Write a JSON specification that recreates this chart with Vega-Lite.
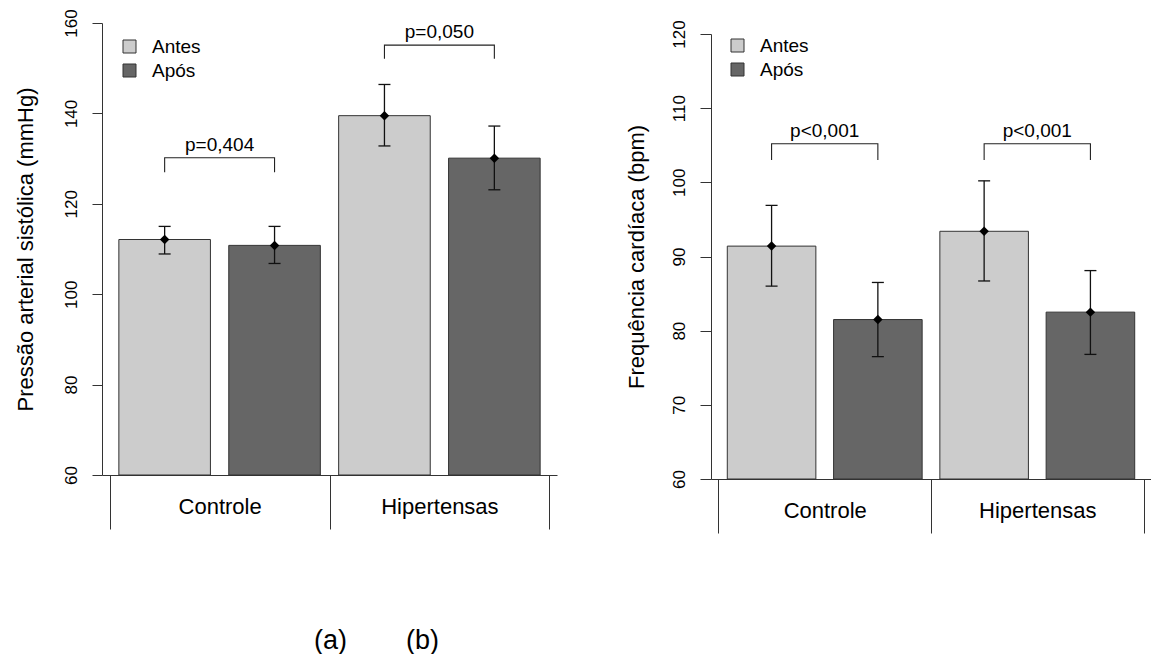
{
  "$schema": "https://vega.github.io/schema/vega-lite/v6.json",
  "background": "white",
  "padding": {"left": 14, "top": 8, "right": 0, "bottom": 0},
  "config": {
    "font": "Liberation Sans",
    "view": {"stroke": null},
    "axis": {"grid": false, "domainColor": "#333", "tickColor": "#333", "labelColor": "#000", "titleColor": "#000", "titleFontWeight": "normal", "labelFont": "Liberation Sans", "titleFont": "Liberation Sans", "domainWidth": 1, "tickWidth": 1},
    "legend": {"labelFont": "Liberation Sans", "labelColor": "#000"}
  },
  "datasets": {
    "pas": [
      {"grupo": "Controle", "tempo": "Antes", "media": 112.1, "inf": 108.9, "sup": 115.0},
      {"grupo": "Controle", "tempo": "Após", "media": 110.8, "inf": 106.8, "sup": 115.0},
      {"grupo": "Hipertensas", "tempo": "Antes", "media": 139.5, "inf": 132.8, "sup": 146.4},
      {"grupo": "Hipertensas", "tempo": "Após", "media": 130.1, "inf": 123.1, "sup": 137.2}
    ],
    "pas_p": [
      {"grupo": "Controle", "p": "p=0,404", "topo": 130.2},
      {"grupo": "Hipertensas", "p": "p=0,050", "topo": 155.1}
    ],
    "pas_br": [
      {"grupo": "Controle", "tempo": "Antes", "y": 127.0, "ordem": 1},
      {"grupo": "Controle", "tempo": "Antes", "y": 130.2, "ordem": 2},
      {"grupo": "Controle", "tempo": "Após", "y": 130.2, "ordem": 3},
      {"grupo": "Controle", "tempo": "Após", "y": 127.0, "ordem": 4},
      {"grupo": "Hipertensas", "tempo": "Antes", "y": 152.1, "ordem": 1},
      {"grupo": "Hipertensas", "tempo": "Antes", "y": 155.1, "ordem": 2},
      {"grupo": "Hipertensas", "tempo": "Após", "y": 155.1, "ordem": 3},
      {"grupo": "Hipertensas", "tempo": "Após", "y": 152.1, "ordem": 4}
    ],
    "fc": [
      {"grupo": "Controle", "tempo": "Antes", "media": 91.4, "inf": 86.0, "sup": 96.9},
      {"grupo": "Controle", "tempo": "Após", "media": 81.5, "inf": 76.5, "sup": 86.5},
      {"grupo": "Hipertensas", "tempo": "Antes", "media": 93.4, "inf": 86.7, "sup": 100.2},
      {"grupo": "Hipertensas", "tempo": "Após", "media": 82.5, "inf": 76.8, "sup": 88.1}
    ],
    "fc_p": [
      {"grupo": "Controle", "p": "p<0,001", "topo": 105.2},
      {"grupo": "Hipertensas", "p": "p<0,001", "topo": 105.2}
    ],
    "fc_br": [
      {"grupo": "Controle", "tempo": "Antes", "y": 103.0, "ordem": 1},
      {"grupo": "Controle", "tempo": "Antes", "y": 105.2, "ordem": 2},
      {"grupo": "Controle", "tempo": "Após", "y": 105.2, "ordem": 3},
      {"grupo": "Controle", "tempo": "Após", "y": 103.0, "ordem": 4},
      {"grupo": "Hipertensas", "tempo": "Antes", "y": 103.0, "ordem": 1},
      {"grupo": "Hipertensas", "tempo": "Antes", "y": 105.2, "ordem": 2},
      {"grupo": "Hipertensas", "tempo": "Após", "y": 105.2, "ordem": 3},
      {"grupo": "Hipertensas", "tempo": "Após", "y": 103.0, "ordem": 4}
    ]
  },
  "spacing": 68,
  "resolve": {"scale": {"x": "independent", "y": "independent", "color": "independent", "xOffset": "independent"}, "legend": {"color": "independent"}},
  "hconcat": [
    {
      "width": 455,
      "height": 452,
      "title": {"text": "(b)", "orient": "bottom", "anchor": "start", "frame": "group", "dx": 304, "offset": -25, "fontSize": 27, "fontWeight": "normal", "font": "Liberation Sans", "color": "#000"},
      "encoding": {
        "x": {"field": "grupo", "type": "nominal", "sort": ["Controle", "Hipertensas"], "title": "(a)",
          "scale": {"paddingInner": 0, "paddingOuter": 0.035},
          "axis": {"labelAngle": 0, "labelFontSize": 22, "tickBand": "extent", "tickSize": 54, "labelPadding": -33, "labelBaseline": "top", "titleX": 228, "titleY": 165, "titleFontSize": 27, "titleAlign": "center", "titleBaseline": "middle"}}
      },
      "layer": [
        {
          "data": {"name": "pas"},
          "mark": {"type": "bar", "stroke": "#333", "strokeWidth": 1},
          "encoding": {
            "xOffset": {"field": "tempo", "type": "nominal", "sort": ["Antes", "Após"], "scale": {"paddingInner": 0.1667, "paddingOuter": 0.0833}},
            "y": {"field": "media", "type": "quantitative", "title": "Pressão arterial sistólica (mmHg)",
              "scale": {"domain": [60, 160], "nice": false, "zero": false},
              "axis": {"values": [60, 80, 100, 120, 140, 160], "labelAngle": -90, "labelFontSize": 17, "tickSize": 10, "labelPadding": 12, "titleFontSize": 22, "titlePadding": 25}},
            "y2": {"datum": 60},
            "color": {"field": "tempo", "type": "nominal", "sort": ["Antes", "Após"],
              "scale": {"domain": ["Antes", "Após"], "range": ["#cccccc", "#666666"]},
              "legend": {"title": null, "orient": "none", "legendX": 18, "legendY": 14, "symbolType": "square", "symbolSize": 169, "symbolStrokeColor": "#333", "symbolStrokeWidth": 1, "labelFontSize": 19, "labelOffset": 13, "rowPadding": 4, "padding": 0}}
          }
        },
        {
          "data": {"name": "pas"},
          "mark": {"type": "rule", "color": "#111", "strokeWidth": 1.3},
          "encoding": {
            "xOffset": {"field": "tempo", "type": "nominal", "sort": ["Antes", "Após"]},
            "y": {"field": "inf", "type": "quantitative", "title": "Pressão arterial sistólica (mmHg)"},
            "y2": {"field": "sup"}
          }
        },
        {
          "data": {"name": "pas"},
          "mark": {"type": "tick", "orient": "horizontal", "size": 12, "thickness": 1.3, "color": "#111", "opacity": 1},
          "encoding": {
            "xOffset": {"field": "tempo", "type": "nominal", "sort": ["Antes", "Após"]},
            "y": {"field": "inf", "type": "quantitative", "title": "Pressão arterial sistólica (mmHg)"}
          }
        },
        {
          "data": {"name": "pas"},
          "mark": {"type": "tick", "orient": "horizontal", "size": 12, "thickness": 1.3, "color": "#111", "opacity": 1},
          "encoding": {
            "xOffset": {"field": "tempo", "type": "nominal", "sort": ["Antes", "Após"]},
            "y": {"field": "sup", "type": "quantitative", "title": "Pressão arterial sistólica (mmHg)"}
          }
        },
        {
          "data": {"name": "pas"},
          "mark": {"type": "point", "shape": "diamond", "filled": true, "size": 90, "color": "#000", "opacity": 1},
          "encoding": {
            "xOffset": {"field": "tempo", "type": "nominal", "sort": ["Antes", "Após"]},
            "y": {"field": "media", "type": "quantitative", "title": "Pressão arterial sistólica (mmHg)"}
          }
        },
        {
          "data": {"name": "pas_br"},
          "mark": {"type": "line", "color": "#222", "strokeWidth": 1.1},
          "encoding": {
            "xOffset": {"field": "tempo", "type": "nominal", "sort": ["Antes", "Após"]},
            "y": {"field": "y", "type": "quantitative", "title": "Pressão arterial sistólica (mmHg)"},
            "order": {"field": "ordem"},
            "detail": {"field": "grupo"}
          }
        },
        {
          "data": {"name": "pas_p"},
          "mark": {"type": "text", "fontSize": 19, "baseline": "alphabetic", "dy": -7, "color": "#000"},
          "encoding": {
            "y": {"field": "topo", "type": "quantitative", "title": "Pressão arterial sistólica (mmHg)"},
            "text": {"field": "p"}
          }
        }
      ]
    },
    {
      "spacing": -5,
      "vconcat": [
        {
          "width": 440,
          "height": 1,
          "data": {"values": [{"v": 1}]},
          "mark": {"type": "point", "opacity": 0, "size": 1}
        },
        {
          "width": 440,
          "height": 445,
          "encoding": {
            "x": {"field": "grupo", "type": "nominal", "sort": ["Controle", "Hipertensas"], "title": null,
              "scale": {"paddingInner": 0, "paddingOuter": 0.035},
              "axis": {"labelAngle": 0, "labelFontSize": 22, "tickBand": "extent", "tickSize": 54, "labelPadding": -33, "labelBaseline": "top"}}
          },
          "layer": [
            {
              "data": {"name": "fc"},
              "mark": {"type": "bar", "stroke": "#333", "strokeWidth": 1},
              "encoding": {
                "xOffset": {"field": "tempo", "type": "nominal", "sort": ["Antes", "Após"], "scale": {"paddingInner": 0.1667, "paddingOuter": 0.0833}},
                "y": {"field": "media", "type": "quantitative", "title": "Frequência cardíaca (bpm)",
                  "scale": {"domain": [60, 120], "nice": false, "zero": false},
                  "axis": {"values": [60, 70, 80, 90, 100, 110, 120], "labelAngle": -90, "labelFontSize": 17, "tickSize": 11, "labelPadding": 12, "titleFontSize": 22, "titlePadding": 22}},
                "y2": {"datum": 60},
                "color": {"field": "tempo", "type": "nominal", "sort": ["Antes", "Após"],
                  "scale": {"domain": ["Antes", "Após"], "range": ["#cccccc", "#666666"]},
                  "legend": {"title": null, "orient": "none", "legendX": 17, "legendY": 13, "symbolType": "square", "symbolSize": 169, "symbolStrokeColor": "#333", "symbolStrokeWidth": 1, "labelFontSize": 19, "labelOffset": 13, "rowPadding": 4, "padding": 0}}
              }
            },
            {
              "data": {"name": "fc"},
              "mark": {"type": "rule", "color": "#111", "strokeWidth": 1.3},
              "encoding": {
                "xOffset": {"field": "tempo", "type": "nominal", "sort": ["Antes", "Após"]},
                "y": {"field": "inf", "type": "quantitative", "title": "Frequência cardíaca (bpm)"},
                "y2": {"field": "sup"}
              }
            },
            {
              "data": {"name": "fc"},
              "mark": {"type": "tick", "orient": "horizontal", "size": 12, "thickness": 1.3, "color": "#111", "opacity": 1},
              "encoding": {
                "xOffset": {"field": "tempo", "type": "nominal", "sort": ["Antes", "Após"]},
                "y": {"field": "inf", "type": "quantitative", "title": "Frequência cardíaca (bpm)"}
              }
            },
            {
              "data": {"name": "fc"},
              "mark": {"type": "tick", "orient": "horizontal", "size": 12, "thickness": 1.3, "color": "#111", "opacity": 1},
              "encoding": {
                "xOffset": {"field": "tempo", "type": "nominal", "sort": ["Antes", "Após"]},
                "y": {"field": "sup", "type": "quantitative", "title": "Frequência cardíaca (bpm)"}
              }
            },
            {
              "data": {"name": "fc"},
              "mark": {"type": "point", "shape": "diamond", "filled": true, "size": 90, "color": "#000", "opacity": 1},
              "encoding": {
                "xOffset": {"field": "tempo", "type": "nominal", "sort": ["Antes", "Após"]},
                "y": {"field": "media", "type": "quantitative", "title": "Frequência cardíaca (bpm)"}
              }
            },
            {
              "data": {"name": "fc_br"},
              "mark": {"type": "line", "color": "#222", "strokeWidth": 1.1},
              "encoding": {
                "xOffset": {"field": "tempo", "type": "nominal", "sort": ["Antes", "Após"]},
                "y": {"field": "y", "type": "quantitative", "title": "Frequência cardíaca (bpm)"},
                "order": {"field": "ordem"},
                "detail": {"field": "grupo"}
              }
            },
            {
              "data": {"name": "fc_p"},
              "mark": {"type": "text", "fontSize": 19, "baseline": "alphabetic", "dy": -7, "color": "#000"},
              "encoding": {
                "y": {"field": "topo", "type": "quantitative", "title": "Frequência cardíaca (bpm)"},
                "text": {"field": "p"}
              }
            }
          ]
        }
      ]
    }
  ]
}
